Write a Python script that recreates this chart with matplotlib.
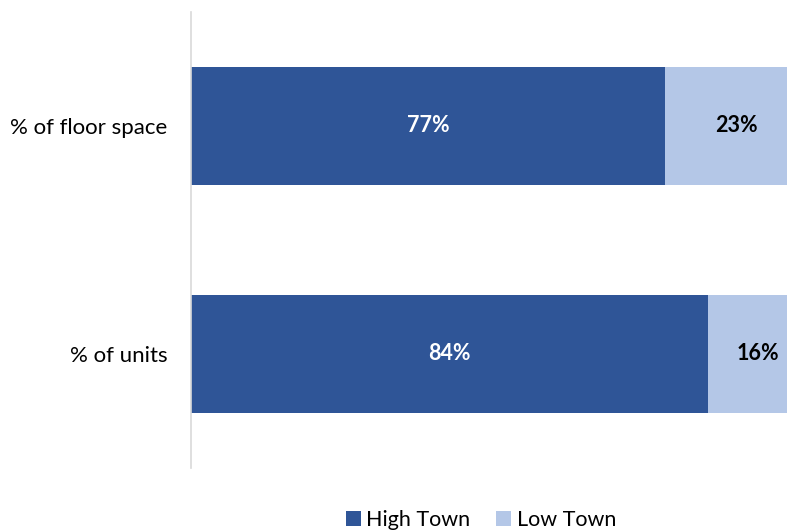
import matplotlib.pyplot as plt

categories = ["% of units", "% of floor space"]
high_town = [84, 77]
low_town = [16, 23]

plt.rcParams['font.family'] = ['Lato', 'DejaVu Sans']

fig = plt.figure(figsize=(7.87, 5.30), dpi=100)
# axes run slightly past the right edge of the figure
ax = fig.add_axes([191 / 787, 62 / 530, 616 / 787, 456 / 530])

dark = "#2F5597"
light = "#B4C7E7"

ax.barh(categories, high_town, height=0.52, color=dark, label="High Town")
ax.barh(categories, low_town, left=high_town, height=0.52, color=light, label="Low Town")

for i, (h, l) in enumerate(zip(high_town, low_town)):
    ax.text(h / 2, i, f"{h}%", ha="center", va="center", color="white",
            fontsize=15.5, fontweight="bold")
    ax.text(h + l / 2, i, f"{l}%", ha="center", va="center", color="black",
            fontsize=15.5, fontweight="bold")

ax.set_xlim(0, 100)
ax.set_ylim(-0.5, 1.5)
ax.set_xticks([])
for side in ["top", "right", "bottom"]:
    ax.spines[side].set_visible(False)
ax.spines["left"].set_color("#D9D9D9")
ax.spines["left"].set_linewidth(1.2)
ax.tick_params(axis="y", length=0, pad=17, labelsize=16)

fig.legend(loc="center", bbox_to_anchor=(481 / 787, 10 / 530), ncol=2,
           frameon=False, fontsize=15.5, handlelength=0.7, handleheight=0.7,
           handletextpad=0.25, columnspacing=1.2, borderaxespad=0)

fig.savefig("out.png", dpi=100)
